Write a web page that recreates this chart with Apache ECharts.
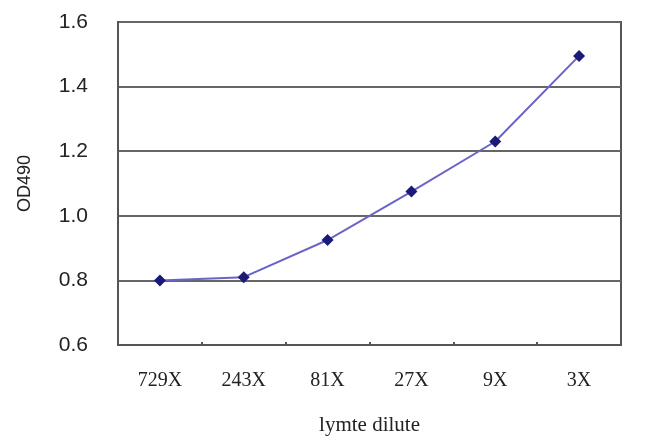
<!DOCTYPE html>
<html><head><meta charset="utf-8">
<script src="https://cdn.jsdelivr.net/npm/echarts@6/dist/echarts.min.js"></script>
<style>html,body{margin:0;padding:0;background:#fff}#c{width:650px;height:441px}</style>
</head><body><div id="c"></div>
<script>
const categories = ['729X','243X','81X','27X','9X','3X'];
const odValues = [0.80, 0.81, 0.925, 1.075, 1.23, 1.495];
const yTicks = {min:0.6, max:1.6, interval:0.2};

const chart = echarts.init(document.getElementById('c'));
chart.setOption({
  animation:false,
  backgroundColor:'#fff',
  grid:{left:118,right:29,top:22,bottom:95,show:true,borderColor:'#555',borderWidth:2},
  xAxis:{
    type:'category', data:categories, boundaryGap:true,
    name:'lymte dilute', nameLocation:'middle', nameGap:70,
    nameTextStyle:{fontFamily:'Liberation Serif',fontSize:21,color:'#222'},
    axisLine:{show:true,lineStyle:{color:'#555',width:2}},
    axisTick:{show:true,inside:true,length:3,lineStyle:{color:'#555',width:2}},
    axisLabel:{margin:26,fontFamily:'Liberation Serif',fontSize:20,color:'#222'},
    splitLine:{show:false}
  },
  yAxis:{
    type:'value', min:yTicks.min, max:yTicks.max, interval:yTicks.interval,
    name:'OD490', nameLocation:'middle', nameGap:84, nameRotate:90,
    nameTextStyle:{fontFamily:'Liberation Sans',fontSize:18,color:'#222'},
    axisLine:{show:true,lineStyle:{color:'#555',width:2}},
    axisTick:{show:false},
    axisLabel:{margin:30,fontFamily:'Liberation Sans',fontSize:21,color:'#222',
      formatter:v=>v.toFixed(1)},
    splitLine:{show:true,lineStyle:{color:'#666',width:2}}
  },
  series:[{
    type:'line', data:odValues,
    symbol:'diamond', symbolSize:12,
    lineStyle:{color:'#6a64c8',width:2},
    itemStyle:{color:'#1c1a78'}
  }]
});
</script></body></html>
